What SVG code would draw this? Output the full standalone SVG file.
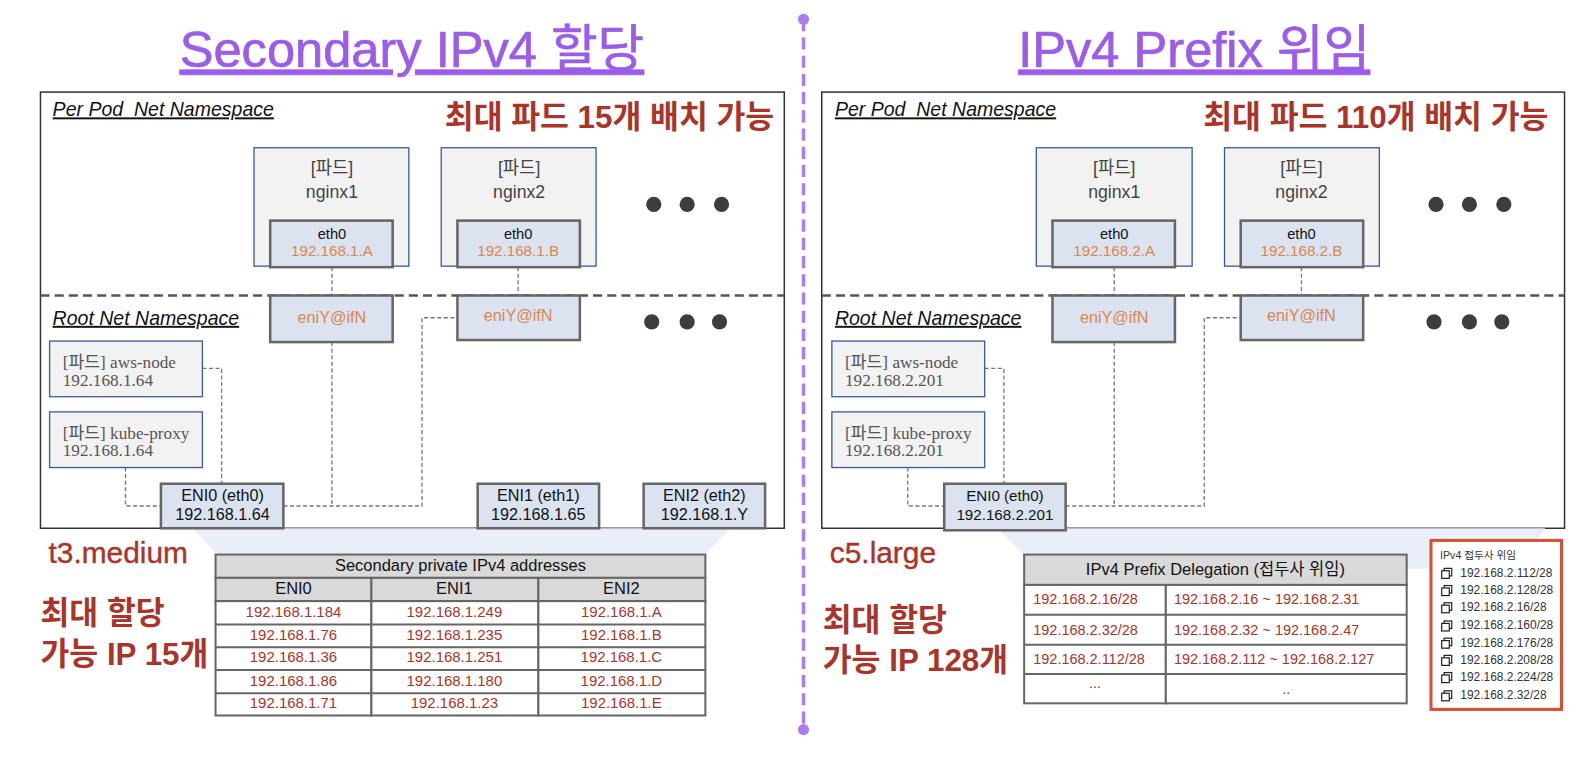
<svg xmlns="http://www.w3.org/2000/svg" width="1586" height="760" viewBox="0 0 1586 760">
<style>
text{font-family:"Liberation Sans","Noto Sans CJK KR",sans-serif}
.title{font-size:50px;fill:#9b5de8;stroke:#9b5de8;stroke-width:.7;text-decoration:underline;text-anchor:middle}
.panel{fill:#fff;stroke:#333;stroke-width:1.5}
.ns{font-size:19.3px;font-style:italic;text-decoration:underline;fill:#111}
.big{font-size:31px;font-weight:700;fill:#a9352a}
.red{font-size:31px;font-weight:700;fill:#a9352a}
.sz{font-size:29.500px;fill:#a9352a;stroke:#a9352a;stroke-width:.4}
.sep{stroke:#555;stroke-width:2.5;stroke-dasharray:9 5;fill:none}
.pod{fill:#f2f2f2;stroke:#3d5a99;stroke-width:1.3}
.pt{font-size:17.5px;fill:#444;text-anchor:middle}
.if{fill:#dce3f0;stroke:#666;stroke-width:2.5}
.k{font-size:14.5px;fill:#111;text-anchor:middle}
.o{font-size:15px;fill:#d9874e;text-anchor:middle}
.on{font-size:16px;fill:#d9874e;text-anchor:middle}
.sv{font-family:"Liberation Serif","Noto Sans CJK KR",serif;font-size:17px;fill:#555}
.e{font-size:16px;fill:#111;text-anchor:middle}
.e2{font-size:15px;fill:#111;text-anchor:middle}
.c{fill:none;stroke:#777;stroke-width:1.3;stroke-dasharray:4 2.5}
.dot{fill:#3d3d3d}
.shade{fill:#e9eef8}
.th{fill:#d9d9d9;stroke:#666;stroke-width:2}
.td{fill:#fff;stroke:#666;stroke-width:2}
.rule{fill:none;stroke:#666;stroke-width:2}
.tt{font-size:16.300px;fill:#111;text-anchor:middle}
.tr{font-size:14.800px;fill:#a9352a;text-anchor:middle}
.trr{font-size:14.300px;fill:#a9352a}
.li{font-size:11.800px;fill:#333}
.ic{fill:#fff;stroke:#222;stroke-width:1.200}
</style>
<defs>
<g id="copy"><rect class="ic" x="3" y="0.600" width="7.500" height="7.500"/><rect class="ic" x="0.600" y="3" width="7.500" height="7.500"/></g>
</defs>
<g id="diagram" transform="scale(1.012)">
<text id="title-left" class="title" x="407" y="66">Secondary IPv4 할당</text>
<text id="title-right" class="title" x="1180" y="66">IPv4 Prefix 위임</text>
<g id="center-divider">
<line x1="794" y1="19" x2="794" y2="721" stroke="#a97cf0" stroke-width="3.500" stroke-dasharray="12 6"/>
<circle cx="794" cy="19" r="5.500" fill="#a97cf0"/><circle cx="794" cy="721" r="5.500" fill="#a97cf0"/>
</g>

<g id="panel-left">
<rect class="panel" x="40" y="91" width="735" height="431"/>
<polygon class="shade" points="190,522 215,548 697,548 722,522"/>
<text class="ns" x="52" y="115" xml:space="preserve">Per Pod  Net Namespace</text>
<text class="ns" x="52" y="321">Root Net Namespace</text>
<text class="big" x="765" y="126" text-anchor="end">최대 파드 15개 배치 가능</text>
<line class="sep" x1="40" y1="292" x2="775" y2="292"/>
</g>
<g id="panel-right">
<rect class="panel" x="812" y="91" width="734" height="431"/>
<polygon class="shade" points="985,522 1012,548 1012,562 1500,562 1527,522"/>
<text class="ns" x="825" y="115" xml:space="preserve">Per Pod  Net Namespace</text>
<text class="ns" x="825" y="321">Root Net Namespace</text>
<text class="big" x="1530" y="126" text-anchor="end">최대 파드 110개 배치 가능</text>
<line class="sep" x1="812" y1="292" x2="1546" y2="292"/>
</g>

<g id="connectors">
<path class="c" d="M328 264V292M512 264V292M200 364H219V478M124 462V500H159M280 500H417V314H452M328 338V500"/>
<path class="c" d="M1101 264V292M1286 264V292M973 364H992V478M897 462V500H933M1053 500H1190V314H1226M1101 338V500"/>
</g>

<g id="pod-l1"><rect class="pod" x="251" y="146" width="153" height="117"/><text class="pt" x="328" y="172">[파드]</text><text class="pt" x="328" y="196">nginx1</text></g>
<g id="eth-l1"><rect class="if" x="267" y="218" width="121" height="46"/><text class="k" x="328" y="236">eth0</text><text class="o" x="328" y="253">192.168.1.A</text></g>
<g id="pod-l2"><rect class="pod" x="436" y="146" width="153" height="117"/><text class="pt" x="513" y="172">[파드]</text><text class="pt" x="513" y="196">nginx2</text></g>
<g id="eth-l2"><rect class="if" x="452" y="218" width="121" height="46"/><text class="k" x="512" y="236">eth0</text><text class="o" x="512" y="253">192.168.1.B</text></g>
<g id="dots-l1"><circle class="dot" cx="646" cy="202" r="7.500"/><circle class="dot" cx="679" cy="202" r="7.500"/><circle class="dot" cx="713" cy="202" r="7.500"/></g>
<g id="eni-l1"><rect class="if" x="267" y="292" width="121" height="46"/><text class="on" x="328" y="319">eniY@ifN</text></g>
<g id="eni-l2"><rect class="if" x="452" y="292" width="121" height="44"/><text class="on" x="512" y="317">eniY@ifN</text></g>
<g id="dots-l2"><circle class="dot" cx="644" cy="318" r="7.500"/><circle class="dot" cx="679" cy="318" r="7.500"/><circle class="dot" cx="711" cy="318" r="7.500"/></g>
<g id="aws-l"><rect class="pod" x="49" y="337" width="151" height="55"/><text class="sv" x="62" y="364">[파드] aws-node</text><text class="sv" x="62" y="381">192.168.1.64</text></g>
<g id="kube-l"><rect class="pod" x="49" y="407" width="151" height="55"/><text class="sv" x="62" y="434">[파드] kube-proxy</text><text class="sv" x="62" y="451">192.168.1.64</text></g>
<g id="eni0-l"><rect class="if" x="159" y="478" width="121" height="44"/><text class="e" x="220" y="495">ENI0 (eth0)</text><text class="e" x="220" y="514">192.168.1.64</text></g>
<g id="eni1-l"><rect class="if" x="472" y="478" width="120" height="44"/><text class="e" x="532" y="495">ENI1 (eth1)</text><text class="e" x="532" y="514">192.168.1.65</text></g>
<g id="eni2-l"><rect class="if" x="636" y="478" width="120" height="44"/><text class="e" x="696" y="495">ENI2 (eth2)</text><text class="e" x="696" y="514">192.168.1.Y</text></g>

<g id="pod-r1"><rect class="pod" x="1024" y="146" width="154" height="117"/><text class="pt" x="1101" y="172">[파드]</text><text class="pt" x="1101" y="196">nginx1</text></g>
<g id="eth-r1"><rect class="if" x="1040" y="218" width="121" height="46"/><text class="k" x="1101" y="236">eth0</text><text class="o" x="1101" y="253">192.168.2.A</text></g>
<g id="pod-r2"><rect class="pod" x="1210" y="146" width="153" height="117"/><text class="pt" x="1286" y="172">[파드]</text><text class="pt" x="1286" y="196">nginx2</text></g>
<g id="eth-r2"><rect class="if" x="1226" y="218" width="121" height="46"/><text class="k" x="1286" y="236">eth0</text><text class="o" x="1286" y="253">192.168.2.B</text></g>
<g id="dots-r1"><circle class="dot" cx="1419" cy="202" r="7.500"/><circle class="dot" cx="1452" cy="202" r="7.500"/><circle class="dot" cx="1486" cy="202" r="7.500"/></g>
<g id="eni-r1"><rect class="if" x="1040" y="292" width="121" height="46"/><text class="on" x="1101" y="319">eniY@ifN</text></g>
<g id="eni-r2"><rect class="if" x="1226" y="292" width="121" height="44"/><text class="on" x="1286" y="317">eniY@ifN</text></g>
<g id="dots-r2"><circle class="dot" cx="1417" cy="318" r="7.500"/><circle class="dot" cx="1452" cy="318" r="7.500"/><circle class="dot" cx="1484" cy="318" r="7.500"/></g>
<g id="aws-r"><rect class="pod" x="822" y="337" width="151" height="55"/><text class="sv" x="835" y="364">[파드] aws-node</text><text class="sv" x="835" y="381">192.168.2.201</text></g>
<g id="kube-r"><rect class="pod" x="822" y="407" width="151" height="55"/><text class="sv" x="835" y="434">[파드] kube-proxy</text><text class="sv" x="835" y="451">192.168.2.201</text></g>
<g id="eni0-r"><rect class="if" x="933" y="478" width="120" height="46"/><text class="e2" x="993" y="495">ENI0 (eth0)</text><text class="e2" x="993" y="514">192.168.2.201</text></g>

<text class="sz" x="48" y="556">t3.medium</text>
<text class="red" x="40" y="617">최대 할당</text>
<text class="red" x="40" y="657">가능 IP 15개</text>
<text class="sz" x="820" y="556">c5.large</text>
<text class="red" x="813" y="624">최대 할당</text>
<text class="red" x="813" y="663">가능 IP 128개</text>

<g id="table-secondary">
<rect class="th" x="213" y="548" width="484" height="23"/>
<rect class="th" x="213" y="571" width="154" height="23"/><rect class="th" x="367" y="571" width="165" height="23"/><rect class="th" x="532" y="571" width="165" height="23"/>
<rect class="td" x="213" y="594" width="154" height="113"/><rect class="td" x="367" y="594" width="165" height="113"/><rect class="td" x="532" y="594" width="165" height="113"/>
<path class="rule" d="M213 617H697M213 639.500H697M213 662H697M213 685H697"/>
<text class="tt" x="455" y="564">Secondary private IPv4 addresses</text>
<text class="tt" x="290" y="587">ENI0</text><text class="tt" x="449" y="587">ENI1</text><text class="tt" x="614" y="587">ENI2</text>
<text class="tr" x="290" y="609.500">192.168.1.184</text><text class="tr" x="449" y="609.500">192.168.1.249</text><text class="tr" x="614" y="609.500">192.168.1.A</text>
<text class="tr" x="290" y="632.500">192.168.1.76</text><text class="tr" x="449" y="632.500">192.168.1.235</text><text class="tr" x="614" y="632.500">192.168.1.B</text>
<text class="tr" x="290" y="654.500">192.168.1.36</text><text class="tr" x="449" y="654.500">192.168.1.251</text><text class="tr" x="614" y="654.500">192.168.1.C</text>
<text class="tr" x="290" y="677.500">192.168.1.86</text><text class="tr" x="449" y="677.500">192.168.1.180</text><text class="tr" x="614" y="677.500">192.168.1.D</text>
<text class="tr" x="290" y="699.500">192.168.1.71</text><text class="tr" x="449" y="699.500">192.168.1.23</text><text class="tr" x="614" y="699.500">192.168.1.E</text>
</g>

<g id="table-prefix">
<rect class="th" x="1012" y="548" width="378" height="30"/>
<rect class="td" x="1012" y="578" width="140" height="117"/><rect class="td" x="1152" y="578" width="238" height="117"/>
<path class="rule" d="M1012 607.500H1390M1012 637H1390M1012 666H1390"/>
<text class="tt" x="1201" y="568">IPv4 Prefix Delegation (접두사 위임)</text>
<text class="trr" x="1021" y="597">192.168.2.16/28</text><text class="trr" x="1160" y="597">192.168.2.16 ~ 192.168.2.31</text>
<text class="trr" x="1021" y="627">192.168.2.32/28</text><text class="trr" x="1160" y="627">192.168.2.32 ~ 192.168.2.47</text>
<text class="trr" x="1021" y="656">192.168.2.112/28</text><text class="trr" x="1160" y="656">192.168.2.112 ~ 192.168.2.127</text>
<text class="trr" x="1082" y="680" text-anchor="middle">...</text><text class="trr" x="1271" y="686" text-anchor="middle">..</text>
</g>

<g id="prefix-list">
<rect x="1414" y="534" width="129" height="167" fill="#fff" stroke="#d94f32" stroke-width="3"/>
<text class="li" x="1423" y="552" style="font-size:10.500px">IPv4 접두사 위임</text>
<use href="#copy" x="1424" y="561"/><text class="li" x="1443" y="570">192.168.2.112/28</text>
<use href="#copy" x="1424" y="578"/><text class="li" x="1443" y="587">192.168.2.128/28</text>
<use href="#copy" x="1424" y="595"/><text class="li" x="1443" y="604">192.168.2.16/28</text>
<use href="#copy" x="1424" y="613"/><text class="li" x="1443" y="622">192.168.2.160/28</text>
<use href="#copy" x="1424" y="630"/><text class="li" x="1443" y="639">192.168.2.176/28</text>
<use href="#copy" x="1424" y="647"/><text class="li" x="1443" y="656">192.168.2.208/28</text>
<use href="#copy" x="1424" y="664"/><text class="li" x="1443" y="673">192.168.2.224/28</text>
<use href="#copy" x="1424" y="682"/><text class="li" x="1443" y="691">192.168.2.32/28</text>
</g>
</g>
</svg>
